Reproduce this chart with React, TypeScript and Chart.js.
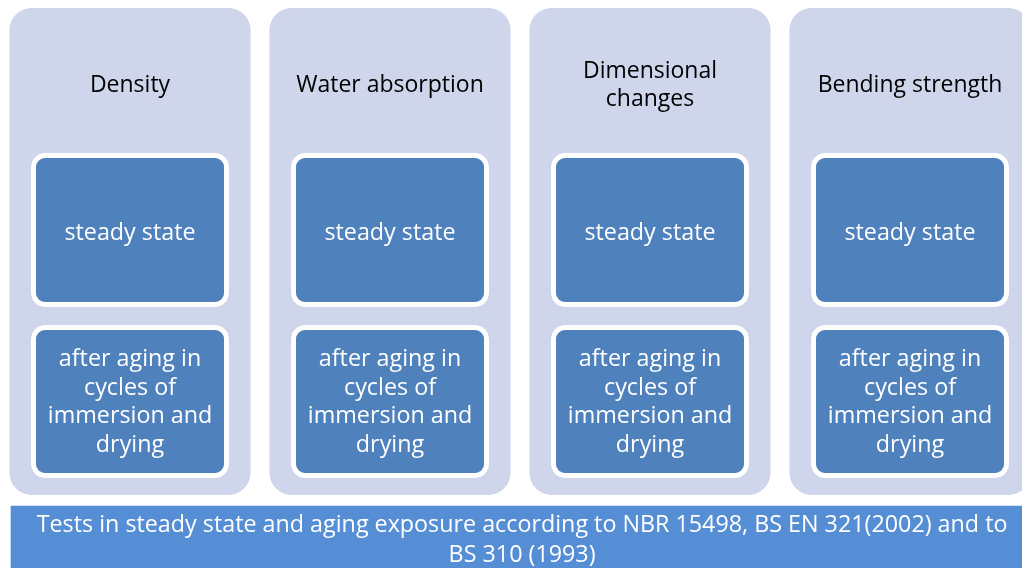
import React, { useEffect, useRef } from "react";
import { Chart, registerables } from "chart.js";

Chart.register(...registerables);

// ---- content ----
const categories = ["Density", "Water absorption", "Dimensional changes", "Bending strength"];
const titleLines = [["Density"], ["Water absorption"], ["Dimensional", "changes"], ["Bending strength"]];
const stageLabels = ["steady state", "after aging in cycles of immersion and drying"];
const stageLines = [["steady state"], ["after aging in", "cycles of", "immersion and", "drying"]];
const footerLines = [
  "Tests in steady state and aging exposure according to NBR 15498, BS EN 321(2002) and to",
  "BS 310 (1993)",
];

// ---- layout (vertical units of the hidden y scale) ----
const COLUMN_SPAN: [number, number] = [8, 495];
const STAGE_SPANS: [number, number][] = [
  [153, 307],
  [325, 478],
];
const BANNER_SPAN: [number, number] = [506, 572];
const TITLE_BASE = 92;
const STAGE_BASES = [240, 409];
const FOOTER_BASE = 546.8;
const FONT = "'Open Sans', Lato, sans-serif";

const textPlugin = {
  id: "diagramText",
  afterDatasetsDraw(chart: any) {
    const ctx = chart.ctx as CanvasRenderingContext2D;
    const x = chart.scales.x;
    const x2 = chart.scales.x2;
    const y = chart.scales.y;
    const drawLines = (lines: string[], cx: number, baseVal: number, color: string, size: number, step: number) => {
      ctx.save();
      ctx.fillStyle = color;
      ctx.font = `${size}px ${FONT}`;
      ctx.textAlign = "center";
      ctx.textBaseline = "alphabetic";
      const n = lines.length;
      lines.forEach((ln, i) => {
        const v = baseVal + (i - (n - 1) / 2) * step;
        ctx.fillText(ln, cx, y.getPixelForValue(v));
      });
      ctx.restore();
    };
    categories.forEach((_, i) => {
      const cx = x.getPixelForValue(i);
      drawLines(titleLines[i], cx, TITLE_BASE, "#000000", 23, 28.5);
      stageLines.forEach((lines, s) => {
        drawLines(lines, cx, STAGE_BASES[s], "#ffffff", 23.3, 28.7);
      });
    });
    drawLines(footerLines, x2.getPixelForValue(0.502), FOOTER_BASE, "#ffffff", 23.3, 29.6);
  },
};

export default function App() {
  const ref = useRef<HTMLCanvasElement | null>(null);

  useEffect(() => {
    document.body.style.margin = "0";
    document.body.style.overflow = "hidden";
    if (!ref.current) return;
    const common = {
      borderSkipped: false,
      grouped: false,
      categoryPercentage: 1,
    };
    const chart = new Chart(ref.current, {
      type: "bar",
      data: {
        labels: categories,
        datasets: [
          {
            ...common,
            label: "Test columns",
            data: categories.map(() => COLUMN_SPAN),
            backgroundColor: "#cfd5ea",
            borderRadius: 22,
            barPercentage: 0.927,
            order: 3,
          } as any,
          {
            ...common,
            label: stageLabels[0],
            data: categories.map(() => STAGE_SPANS[0]),
            backgroundColor: "#4f81bd",
            borderColor: "#ffffff",
            borderWidth: 5,
            borderRadius: 14,
            barPercentage: 0.7615,
            order: 2,
          } as any,
          {
            ...common,
            label: stageLabels[1],
            data: categories.map(() => STAGE_SPANS[1]),
            backgroundColor: "#4f81bd",
            borderColor: "#ffffff",
            borderWidth: 5,
            borderRadius: 14,
            barPercentage: 0.7615,
            order: 1,
          } as any,
          {
            ...common,
            label: "Footer",
            xAxisID: "x2",
            data: [{ x: 0.5, y: BANNER_SPAN }],
            backgroundColor: "#558ed5",
            barThickness: 1018,
            order: 0,
          } as any,
        ],
      },
      options: {
        animation: false,
        responsive: false,
        devicePixelRatio: 1,
        layout: { padding: 0 },
        plugins: {
          legend: { display: false },
          tooltip: { enabled: false },
          title: { display: false },
        },
        scales: {
          x: { type: "category", display: false, offset: true },
          x2: { type: "linear", display: false, min: 0, max: 1, offset: false },
          y: { type: "linear", display: false, min: 0, max: 568, reverse: true },
        },
      } as any,
      plugins: [textPlugin],
    });
    return () => chart.destroy();
  }, []);

  return (
    <div style={{ width: 1022, height: 568, overflow: "hidden", background: "#ffffff" }}>
      <canvas ref={ref} width={1040} height={568} style={{ display: "block" }} />
    </div>
  );
}
